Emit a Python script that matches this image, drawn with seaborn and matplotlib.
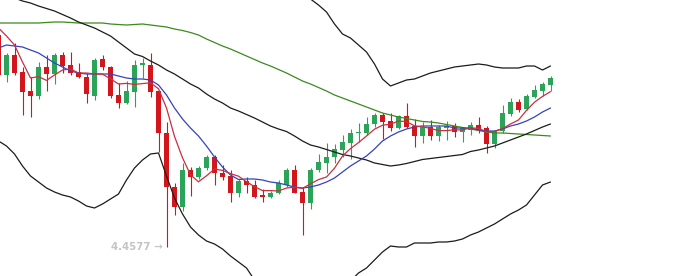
import numpy as np
import pandas as pd
import matplotlib
matplotlib.use("Agg")
import matplotlib.pyplot as plt
import seaborn as sns

nan = float("nan")

# ---- candle data (index -1 is the partially visible first candle) ----
idx = list(range(-1, 69))
opens = [4.6697, 4.6297, 4.6497, 4.6327, 4.6137, 4.6087, 4.6377, 4.6307, 4.6497, 4.6397,
         4.6327, 4.6277, 4.6087, 4.6457, 4.6377, 4.6097, 4.6017, 4.6127, 4.6397, 4.6397,
         4.6137, 4.5717, 4.5177, 4.4977, 4.5347, 4.5277, 4.5367, 4.5477, 4.5317, 4.5287,
         4.5117, 4.5237, 4.5197, 4.5097, 4.5077, 4.5117, 4.5197, 4.5347, 4.5127, 4.5017,
         4.5347, 4.5417, 4.5477, 4.5547, 4.5617, 4.5717, 4.5717, 4.5807, 4.5897, 4.5837,
         4.5767, 4.5887, 4.5787, 4.5687, 4.5777, 4.5687, 4.5767, 4.5787, 4.5727, 4.5747,
         4.5797, 4.5767, 4.5607, 4.5737, 4.5907, 4.6027, 4.5957, 4.6077, 4.6137, 4.6197]
highs = [4.6717, 4.6517, 4.6617, 4.6377, 4.6277, 4.6427, 4.6497, 4.6517, 4.6527, 4.6527,
         4.6417, 4.6317, 4.6467, 4.6497, 4.6387, 4.6217, 4.6237, 4.6447, 4.6467, 4.6517,
         4.6137, 4.5827, 4.5217, 4.5417, 4.5377, 4.5387, 4.5497, 4.5497, 4.5397, 4.5347,
         4.5257, 4.5277, 4.5247, 4.5157, 4.5137, 4.5247, 4.5367, 4.5397, 4.5177, 4.5367,
         4.5507, 4.5617, 4.5607, 4.5697, 4.5757, 4.5817, 4.5877, 4.5917, 4.5917, 4.5917,
         4.5897, 4.6017, 4.5857, 4.5827, 4.5847, 4.5797, 4.5837, 4.5817, 4.5777, 4.5827,
         4.5877, 4.5787, 4.5747, 4.5997, 4.6067, 4.6057, 4.6107, 4.6197, 4.6227, 4.6287]
lows = [4.6277, 4.6227, 4.6297, 4.5897, 4.5877, 4.6057, 4.6137, 4.6207, 4.6317, 4.6297,
        4.6267, 4.6017, 4.6047, 4.6347, 4.6067, 4.5967, 4.6007, 4.5977, 4.6267, 4.6077,
        4.5527, 4.4577, 4.4897, 4.4937, 4.5087, 4.5257, 4.5347, 4.5197, 4.5247, 4.5027,
        4.5077, 4.5117, 4.5067, 4.5027, 4.5067, 4.5107, 4.5177, 4.5117, 4.4697, 4.4957,
        4.5327, 4.5317, 4.5417, 4.5477, 4.5457, 4.5627, 4.5697, 4.5777, 4.5657, 4.5737,
        4.5757, 4.5767, 4.5577, 4.5617, 4.5647, 4.5637, 4.5647, 4.5677, 4.5627, 4.5697,
        4.5717, 4.5517, 4.5567, 4.5717, 4.5887, 4.5927, 4.5947, 4.6067, 4.6087, 4.6137]
closes = [4.6297, 4.6497, 4.6317, 4.6127, 4.6087, 4.6377, 4.6307, 4.6497, 4.6387, 4.6317,
          4.6277, 4.6107, 4.6447, 4.6377, 4.6087, 4.6017, 4.6137, 4.6397, 4.6417, 4.6127,
          4.5717, 4.5177, 4.4977, 4.5347, 4.5277, 4.5367, 4.5477, 4.5317, 4.5277, 4.5117,
          4.5237, 4.5197, 4.5077, 4.5077, 4.5117, 4.5217, 4.5347, 4.5117, 4.5017, 4.5347,
          4.5427, 4.5477, 4.5557, 4.5627, 4.5717, 4.5727, 4.5807, 4.5897, 4.5827, 4.5767,
          4.5887, 4.5777, 4.5687, 4.5777, 4.5687, 4.5777, 4.5782, 4.5727, 4.5767, 4.5797,
          4.5747, 4.5607, 4.5737, 4.5917, 4.6027, 4.5947, 4.6087, 4.6147, 4.6207, 4.6267]

# ---- indicator lines (nan = outside the visible frame) ----
ma5 = [4.6767, 4.6687, 4.6597, 4.6427, 4.6267, 4.6281, 4.6243, 4.6297, 4.6347, 4.6357,
       4.6317, 4.6317, 4.6307, 4.6305, 4.6259, 4.6207, 4.6213, 4.6203, 4.6211, 4.6219,
       4.6159, 4.5967, 4.5683, 4.5469, 4.5299, 4.5229, 4.5289, 4.5357, 4.5343, 4.5311,
       4.5285, 4.5229, 4.5181, 4.5141, 4.5141, 4.5137, 4.5167, 4.5175, 4.5163, 4.5209,
       4.5251, 4.5277, 4.5365, 4.5487, 4.5561, 4.5621, 4.5687, 4.5755, 4.5795, 4.5805,
       4.5837, 4.5831, 4.5789, 4.5779, 4.5763, 4.5741, 4.5741, 4.5749, 4.5747, 4.5769,
       4.5763, 4.5729, 4.5731, 4.5761, 4.5807, 4.5847, 4.5943, 4.6025, 4.6083, 4.6131]
ma10 = [4.6567, 4.6597, 4.6587, 4.6577, 4.6547, 4.6517, 4.6467, 4.6417, 4.6377, 4.6337,
        4.6317, 4.6307, 4.6307, 4.6307, 4.6307, 4.6287, 4.6267, 4.6257, 4.6257, 4.6247,
        4.6197, 4.6097, 4.5967, 4.5857, 4.5767, 4.5687, 4.5587, 4.5477, 4.5377, 4.5297,
        4.5252, 4.5257, 4.5257, 4.5247, 4.5227, 4.5217, 4.5197, 4.5177, 4.5167, 4.5177,
        4.5197, 4.5227, 4.5267, 4.5327, 4.5387, 4.5437, 4.5487, 4.5557, 4.5637, 4.5687,
        4.5727, 4.5757, 4.5777, 4.5787, 4.5787, 4.5787, 4.5787, 4.5767, 4.5767, 4.5767,
        4.5747, 4.5737, 4.5737, 4.5757, 4.5787, 4.5807, 4.5837, 4.5877, 4.5927, 4.5967]
ma_long = [4.6817, 4.6817, 4.6817, 4.6817, 4.6817, 4.6817, 4.6822, 4.6827, 4.6827, 4.6822,
           4.6817, 4.6817, 4.6817, 4.6817, 4.6807, 4.6802, 4.6797, 4.6802, 4.6807, 4.6797,
           4.6787, 4.6777, 4.6757, 4.6742, 4.6722, 4.6697, 4.6657, 4.6622, 4.6587, 4.6557,
           4.6522, 4.6487, 4.6452, 4.6417, 4.6387, 4.6352, 4.6317, 4.6277, 4.6237, 4.6207,
           4.6172, 4.6137, 4.6097, 4.6067, 4.6037, 4.6007, 4.5977, 4.5947, 4.5917, 4.5897,
           4.5877, 4.5862, 4.5847, 4.5832, 4.5827, 4.5817, 4.5802, 4.5787, 4.5772, 4.5757,
           4.5742, 4.5727, 4.5717, 4.5717, 4.5712, 4.5707, 4.5702, 4.5697, 4.5692, 4.5687]
boll_mid = [4.7117, 4.7097, 4.7067, 4.7037, 4.7017, 4.6987, 4.6962, 4.6937, 4.6902, 4.6867,
            4.6827, 4.6797, 4.6767, 4.6727, 4.6687, 4.6627, 4.6567, 4.6507, 4.6482, 4.6437,
            4.6397, 4.6347, 4.6307, 4.6257, 4.6207, 4.6167, 4.6107, 4.6057, 4.6017, 4.5967,
            4.5937, 4.5902, 4.5867, 4.5827, 4.5787, 4.5757, 4.5732, 4.5687, 4.5637, 4.5597,
            4.5577, 4.5552, 4.5527, 4.5502, 4.5487, 4.5467, 4.5447, 4.5417, 4.5402, 4.5387,
            4.5397, 4.5412, 4.5432, 4.5452, 4.5462, 4.5472, 4.5482, 4.5492, 4.5502, 4.5532,
            4.5547, 4.5567, 4.5587, 4.5617, 4.5647, 4.5677, 4.5707, 4.5742, 4.5777, 4.5807]
boll_up = [nan, nan, nan, nan, nan, nan, nan, nan, nan, nan,
           nan, nan, nan, nan, nan, nan, nan, nan, nan, nan,
           nan, nan, nan, nan, nan, nan, nan, nan, nan, nan,
           nan, nan, nan, nan, nan, nan, nan, nan, 4.7147, 4.7057,
           4.6997, 4.6927, 4.6807, 4.6707, 4.6667, 4.6597, 4.6527, 4.6407, 4.6257, 4.6187,
           4.6217, 4.6247, 4.6257, 4.6287, 4.6317, 4.6337, 4.6357, 4.6377, 4.6387, 4.6397,
           4.6407, 4.6397, 4.6377, 4.6367, 4.6367, 4.6367, 4.6387, 4.6387, 4.6347, 4.6387]
boll_low = [4.5637, 4.5587, 4.5507, 4.5387, 4.5287, 4.5227, 4.5167, 4.5127, 4.5097, 4.5077,
            4.5037, 4.4987, 4.4967, 4.5007, 4.5057, 4.5107, 4.5247, 4.5367, 4.5447, 4.5507,
            4.5517, 4.5287, 4.5067, 4.4907, 4.4777, 4.4697, 4.4637, 4.4607, 4.4557, 4.4487,
            4.4427, 4.4367, 4.4247, nan, nan, nan, nan, nan, nan, nan,
            nan, nan, nan, nan, 4.4237, 4.4317, 4.4367, 4.4447, 4.4527, 4.4587,
            4.4577, 4.4577, 4.4617, 4.4617, 4.4617, 4.4627, 4.4627, 4.4637, 4.4657, 4.4697,
            4.4727, 4.4767, 4.4807, 4.4857, 4.4907, 4.4947, 4.4997, 4.5097, 4.5197, 4.5227]

min_label = "4.4577 \u2192"

UP_COLOR = "#2ba45a"
DOWN_COLOR = "#d3161c"
series = [("MA_LONG", ma_long, "#3b8a1d"), ("UP", boll_up, "#1b1b1b"),
          ("MID", boll_mid, "#1b1b1b"), ("LOW", boll_low, "#1b1b1b"),
          ("MA10", ma10, "#3443be"), ("MA5", ma5, "#c9303f")]

sns.set_style("white")
fig = plt.figure(figsize=(6.79, 2.76), dpi=100)
ax = fig.add_axes([0, 0, 1, 1])

# candles
for i, o, h, l, c in zip(idx, opens, highs, lows, closes):
    col = UP_COLOR if c >= o else DOWN_COLOR
    ax.vlines(i, l, h, color=col, lw=0.8, zorder=2)
    bottom = min(o, c)
    height = max(abs(c - o), 0.0012)
    ax.bar(i, height, bottom=bottom, width=0.7, color=col, lw=0, zorder=3)

# lines via seaborn, one call per visible run
for name, vals, color in series:
    df = pd.DataFrame({"idx": idx, "value": vals})
    run_id = df["value"].isna().cumsum()
    df = df.assign(run=run_id).dropna()
    for _, seg in df.groupby("run"):
        if len(seg) < 2:
            continue
        sns.lineplot(data=seg, x="idx", y="value", color=color, lw=0.9,
                     ax=ax, zorder=4, sort=False, estimator=None)

# min marker label
kmin = int(np.argmin(lows))
ax.annotate(min_label, xy=(idx[kmin], lows[kmin]), xytext=(-2.5, 0),
            textcoords="offset points", ha="right", va="center",
            fontsize=7.4, color="#c4c4c4", fontweight="bold", zorder=5)

ax.set_xlim(-0.8125, 84.0625)
ax.set_ylim(4.4287, 4.7047)
ax.axis("off")
fig.savefig("out.png", dpi=100, facecolor="white")
